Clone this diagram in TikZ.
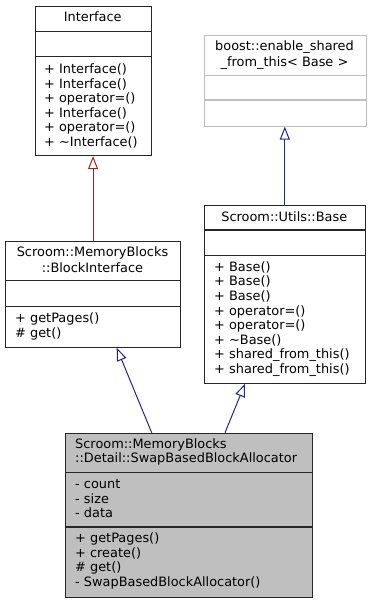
\documentclass[tikz,border=0pt]{standalone}
\usepackage{fontspec}
\setmainfont{DejaVu Sans}
\usetikzlibrary{arrows.meta,calc}
\definecolor{edgeblue}{HTML}{24248E}
\definecolor{edgered}{HTML}{A02222}
\definecolor{boxgray}{HTML}{BFBFBF}
\tikzset{
  classbox/.style={draw=black!85, line width=1.1pt, rectangle, inner sep=0pt, anchor=north west},
  extbox/.style={classbox, draw=boxgray},
  sep/.style={draw=black!85, line width=1.1pt},
  extsep/.style={draw=boxgray, line width=1.1pt},
  txt/.style={inner sep=0pt, anchor=base west, font=\fontsize{12.9}{14.5}\selectfont},
  ctxt/.style={txt, anchor=base},
  inherit/.style={line width=1pt, -{Triangle[open, length=13pt, width=10pt, fill=white]}},
}
\begin{document}
\begin{tikzpicture}[x=1pt,y=-1pt]
\useasboundingbox (0,0) rectangle (371,603);

% Interface
\node[classbox, minimum width=116.5pt, minimum height=149.5pt] (iface) at (34.5,5.5) {};
\draw[sep] (34.5,31.3) -- (151,31.3) (34.5,56.7) -- (151,56.7);
\node[ctxt] (ifaceT) at (92.75,21.8) {Interface};
\node[txt] (ifm1) at (44,73.5) {+ Interface()};
\node[txt] (ifm2) at (44,88) {+ Interface()};
\node[txt] (ifm3) at (44,102.5) {+ operator=()};
\node[txt] (ifm4) at (44,117) {+ Interface()};
\node[txt] (ifm5) at (44,131.5) {+ operator=()};
\node[txt] (ifm6) at (44,146) {+ \textasciitilde Interface()};

% boost::enable_shared_from_this< Base >
\node[extbox, minimum width=162pt, minimum height=90.5pt] (esft) at (203.5,35) {};
\draw[extsep] (203.5,75.3) -- (365.5,75.3) (203.5,100) -- (365.5,100);
\node[ctxt] (esftT1) at (284.5,50.5) {boost::enable\_shared};
\node[ctxt] (esftT2) at (284.5,66) {\_from\_this< Base >};

% Scroom::Utils::Base
\node[classbox, minimum width=160.5pt, minimum height=178pt] (base) at (204,204.7) {};
\draw[sep] (204,230) -- (364.5,230) (204,255.3) -- (364.5,255.3);
\node[ctxt] (baseT) at (284.25,221.2) {Scroom::Utils::Base};
\node[txt] (bm1) at (214,271.2) {+ Base()};
\node[txt] (bm2) at (214,285.8) {+ Base()};
\node[txt] (bm3) at (214,300.4) {+ Base()};
\node[txt] (bm4) at (214,315) {+ operator=()};
\node[txt] (bm5) at (214,329.6) {+ operator=()};
\node[txt] (bm6) at (214,344.2) {+ \textasciitilde Base()};
\node[txt] (bm7) at (214,358.8) {+ shared\_from\_this()};
\node[txt] (bm8) at (214,373.4) {+ shared\_from\_this()};

% Scroom::MemoryBlocks::BlockInterface
\node[classbox, minimum width=175pt, minimum height=105.7pt] (blockif) at (5,241) {};
\draw[sep] (5,280.7) -- (180,280.7) (5,306.7) -- (180,306.7);
\node[ctxt] (blockifT1) at (92.5,256.8) {Scroom::MemoryBlocks};
\node[ctxt] (blockifT2) at (92.5,272.2) {::BlockInterface};
\node[txt] (blm1) at (15,322.8) {+ getPages()};
\node[txt] (blm2) at (15,337.2) {\# get()};

% Scroom::MemoryBlocks::Detail::SwapBasedBlockAllocator
\node[classbox, fill=boxgray, minimum width=246.7pt, minimum height=164pt] (swap) at (65,432.7) {};
\draw[sep] (65,472.3) -- (311.7,472.3) (65,527) -- (311.7,527);
\node[txt] (swapT1) at (75,448.8) {Scroom::MemoryBlocks};
\node[txt] (swapT2) at (75,462.8) {::Detail::SwapBasedBlockAllocator};
\node[txt] (sa1) at (75,488.8) {- count};
\node[txt] (sa2) at (75,503.2) {- size};
\node[txt] (sa3) at (75,517.8) {- data};
\node[txt] (sm1) at (75,542.8) {+ getPages()};
\node[txt] (sm2) at (75,557.3) {+ create()};
\node[txt] (sm3) at (75,571.8) {\# get()};
\node[txt] (sm4) at (75,586.3) {- SwapBasedBlockAllocator()};

% inheritance edges
\draw[inherit, edgered] (blockif.north) -- (blockif.north |- iface.south);
\draw[inherit, edgeblue] (base.north) -- (base.north |- esft.south);
\draw[inherit, edgeblue] ($(swap.north west)+(86.7,0)$) -- ($(blockif.south west)+(111.7,0)$);
\draw[inherit, edgeblue] ($(swap.north west)+(160,0)$) -- ($(base.south west)+(41,0)$);
\end{tikzpicture}
\end{document}
